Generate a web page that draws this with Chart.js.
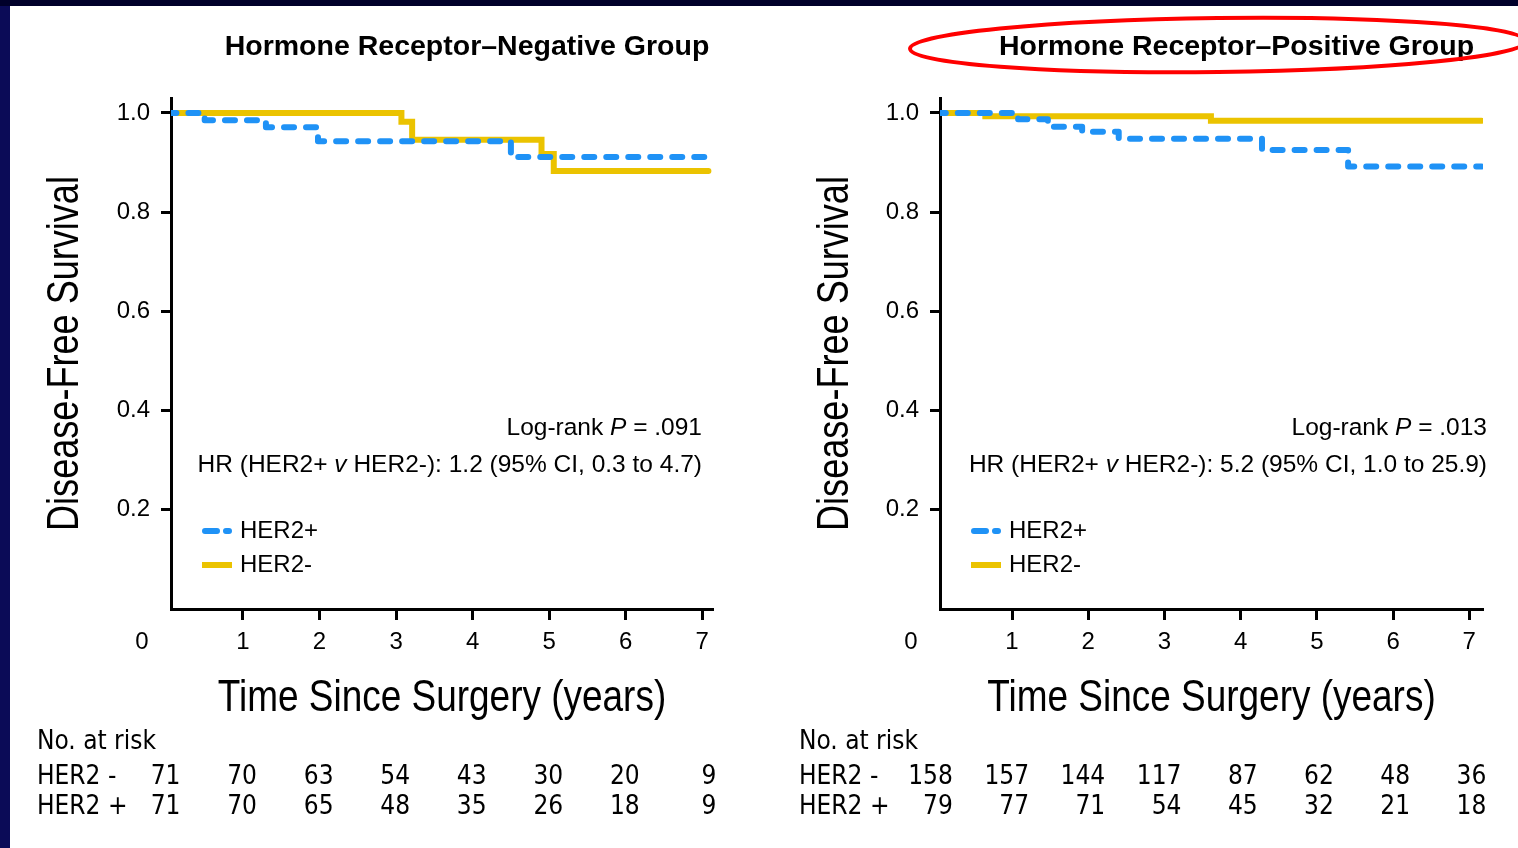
<!DOCTYPE html>
<html>
<head>
<meta charset="utf-8">
<title>Disease-free survival by HER2 status</title>
<script src="https://cdn.jsdelivr.net/npm/chart.js@4.4.1/dist/chart.umd.min.js"></script>
<style>
  html, body { margin: 0; padding: 0; }
  body { width: 1518px; height: 848px; background: #0b0b57; overflow: hidden; position: relative; }
  #topband { position: absolute; left: 0; top: 0; width: 1518px; height: 6px; background: #00002a; }
  #sheet { position: absolute; left: 10px; top: 6px; width: 1508px; height: 842px; background: #fff; overflow: hidden; }
  canvas { position: absolute; top: 0; }
  #negChart { left: 0; }
  #posChart { left: 760px; }
</style>
</head>
<body>
<div id="topband"></div>
<div id="sheet">
  <canvas id="negChart" width="760" height="842"></canvas>
  <canvas id="posChart" width="748" height="842"></canvas>
</div>
<script>
// shared axis values
const riskYears = [0, 1, 2, 3, 4, 5, 6, 7];
const xTicks = [1, 2, 3, 4, 5, 6, 7];
const yTicks = [0.2, 0.4, 0.6, 0.8, 1.0];
const xTitle = 'Time Since Surgery (years)';
const yTitle = 'Disease-Free Survival';

// Hormone receptor-negative group
const negHer2PosTimes = [0, 0.50, 1.30, 1.98, 4.50, 7.08];
const negHer2PosSurv  = [1.0, 0.985, 0.971, 0.943, 0.911, 0.911];
const negHer2NegTimes = [0, 3.07, 3.21, 4.90, 5.06, 7.08];
const negHer2NegSurv  = [1.0, 0.982, 0.946, 0.917, 0.883, 0.883];
const negRiskHer2Neg = [71, 70, 63, 54, 43, 30, 20, 9];
const negRiskHer2Pos = [71, 70, 65, 48, 35, 26, 18, 9];

// Hormone receptor-positive group
const posHer2PosTimes = [0, 1.08, 1.47, 1.92, 2.40, 4.28, 5.41, 7.16];
const posHer2PosSurv  = [1.0, 0.987, 0.972, 0.962, 0.948, 0.925, 0.892, 0.892];
const posHer2NegTimes = [0, 0.65, 3.61, 7.16];
const posHer2NegSurv  = [1.0, 0.993, 0.984, 0.984];
const posRiskHer2Neg = [158, 157, 144, 117, 87, 62, 48, 36];
const posRiskHer2Pos = [79, 77, 71, 54, 45, 32, 21, 18];

const SANS = '"Liberation Sans", Arial, Helvetica, sans-serif';
const NARROW = '"Liberation Sans Narrow", "Arial Narrow", "DejaVu Sans Condensed", sans-serif';
const BLUE = '#1f92f6';
const YELLOW = '#ebc300';

// text pieces with mixed italic, right aligned at `right`
function drawRuns(ctx, runs, right, y) {
  let w = 0;
  runs.forEach(r => { ctx.font = r.font; w += ctx.measureText(r.text).width; });
  let cx = right - w;
  ctx.textAlign = 'left';
  runs.forEach(r => {
    ctx.font = r.font;
    ctx.fillText(r.text, cx, y);
    cx += ctx.measureText(r.text).width;
  });
}

// condensed-looking text: squeeze a regular face along the baseline
function squeezedText(ctx, text, x, y, angle, squeeze) {
  ctx.save();
  ctx.translate(x, y);
  ctx.rotate(angle);
  ctx.scale(squeeze, 1);
  ctx.textAlign = 'center';
  ctx.fillText(text, 0, 0);
  ctx.restore();
}

const kmExtras = {
  id: 'kmExtras',
  afterDraw(chart, args, o) {
    const ctx = chart.ctx;
    const area = chart.chartArea;
    const xs = chart.scales.x;
    ctx.save();
    ctx.fillStyle = '#000';
    ctx.textBaseline = 'middle';

    // panel title
    ctx.font = 'bold 28.5px ' + SANS;
    ctx.textAlign = 'center';
    ctx.fillText(o.title, (area.left + area.right) / 2 + 25, 41);

    if (o.circled) {
      ctx.beginPath();
      ctx.ellipse(448, 39, 308, 27, -0.012, 0, Math.PI * 2);
      ctx.strokeStyle = '#f00';
      ctx.lineWidth = 4;
      ctx.stroke();
    }

    // axis titles
    ctx.font = '44px ' + SANS;
    squeezedText(ctx, xTitle, (area.left + area.right) / 2, 693, 0, 0.84);
    squeezedText(ctx, yTitle, o.yTitleX, (area.top + area.bottom) / 2, -Math.PI / 2, 0.82);

    // origin label
    ctx.font = '24px ' + SANS;
    ctx.textAlign = 'center';
    ctx.fillText('0', area.left - 29, area.bottom + 33);

    // log-rank and hazard ratio
    const reg = '24.5px ' + SANS, ita = 'italic 24.5px ' + SANS;
    drawRuns(ctx, [{ text: 'Log-rank ', font: reg }, { text: 'P', font: ita }, { text: ' = ' + o.p, font: reg }], o.noteRight, 422);
    drawRuns(ctx, [{ text: 'HR (HER2+ ', font: reg }, { text: 'v', font: ita }, { text: ' HER2-): ' + o.hr, font: reg }], o.noteRight, 459);

    // legend
    chart.data.datasets.forEach((ds, i) => {
      const y = 525 + i * 34;
      const lx = area.left + 34;
      ctx.beginPath();
      ctx.setLineDash(ds.borderDash ? [12, 9] : []);
      ctx.lineCap = ds.borderDash ? 'round' : 'butt';
      ctx.lineWidth = 6;
      ctx.strokeStyle = ds.borderColor;
      ctx.moveTo(ds.borderDash ? lx : lx - 3, y);
      ctx.lineTo(ds.borderDash ? lx + 24 : lx + 27, y);
      ctx.stroke();
      ctx.setLineDash([]);
      ctx.font = '24px ' + SANS;
      ctx.textAlign = 'left';
      ctx.fillText(ds.label, area.left + 69, y);
    });

    // numbers at risk, aligned to the year ticks
    ctx.font = '26px ' + NARROW;
    ctx.textAlign = 'left';
    ctx.fillText('No. at risk', o.riskLeft, 736);
    o.riskRows.forEach((row, r) => {
      const y = 771 + r * 30;
      ctx.textAlign = 'left';
      ctx.fillText(row.label, o.riskLeft, y);
      ctx.textAlign = 'right';
      row.values.forEach((v, i) => {
        ctx.fillText(String(v), xs.getPixelForValue(riskYears[i]) + o.riskShift, y);
      });
    });
    ctx.restore();
  }
};

function toPoints(times, surv) {
  return times.map((t, i) => ({ x: t, y: surv[i] }));
}

function kmChart(id, datasets, extras, box) {
  const axisGrid = { drawOnChartArea: false, drawTicks: true, tickWidth: 3, tickColor: '#000' };
  return new Chart(document.getElementById(id), {
    type: 'line',
    data: {
      datasets: [
        { label: 'HER2+', data: datasets.pos, borderColor: BLUE, borderWidth: 6, borderDash: [10, 12],
          borderCapStyle: 'round', borderJoinStyle: 'round', stepped: true, pointRadius: 0, fill: false },
        { label: 'HER2-', data: datasets.neg, borderColor: YELLOW, borderWidth: 6,
          borderCapStyle: 'round', stepped: true, pointRadius: 0, fill: false }
      ]
    },
    options: {
      responsive: false,
      animation: false,
      events: [],
      layout: { padding: { top: 92, right: box.padRight, bottom: 129, left: 0 } },
      scales: {
        x: {
          type: 'linear', min: box.xMin, max: box.xMax,
          afterBuildTicks: s => { s.ticks = xTicks.map(v => ({ value: v })); },
          afterFit: s => { s.height = 110; },
          border: { color: '#000', width: 3 },
          grid: Object.assign({ tickLength: 11 }, axisGrid),
          ticks: { color: '#000', font: { family: SANS, size: 24 }, padding: 8, maxRotation: 0 }
        },
        y: {
          min: 0, max: 1.03,
          afterBuildTicks: s => { s.ticks = yTicks.map(v => ({ value: v })); },
          afterFit: s => { s.width = box.yWidth; },
          border: { color: '#000', width: 3 },
          grid: Object.assign({ tickLength: 10 }, axisGrid),
          ticks: { color: '#000', font: { family: SANS, size: 24 }, padding: 11, callback: v => v.toFixed(1) }
        }
      },
      plugins: {
        legend: { display: false },
        tooltip: { enabled: false },
        kmExtras: extras
      }
    },
    plugins: [kmExtras]
  });
}

kmChart('negChart',
  { pos: toPoints(negHer2PosTimes, negHer2PosSurv), neg: toPoints(negHer2NegTimes, negHer2NegSurv) },
  {
    title: 'Hormone Receptor\u2013Negative Group', circled: false,
    p: '.091', hr: '1.2 (95% CI, 0.3 to 4.7)', noteRight: 692, riskLeft: 27, riskShift: 14, yTitleX: 56,
    riskRows: [{ label: 'HER2 -', values: negRiskHer2Neg }, { label: 'HER2 +', values: negRiskHer2Pos }]
  },
  { xMin: 0.06, xMax: 7.14, yWidth: 161, padRight: 57 });

kmChart('posChart',
  { pos: toPoints(posHer2PosTimes, posHer2PosSurv), neg: toPoints(posHer2NegTimes, posHer2NegSurv) },
  {
    title: 'Hormone Receptor\u2013Positive Group', circled: true,
    p: '.013', hr: '5.2 (95% CI, 1.0 to 25.9)', noteRight: 717, riskLeft: 29, riskShift: 17, yTitleX: 66,
    riskRows: [{ label: 'HER2 -', values: posRiskHer2Neg }, { label: 'HER2 +', values: posRiskHer2Pos }]
  },
  { xMin: 0.055, xMax: 7.18, yWidth: 170, padRight: 35 });
</script>
</body>
</html>
